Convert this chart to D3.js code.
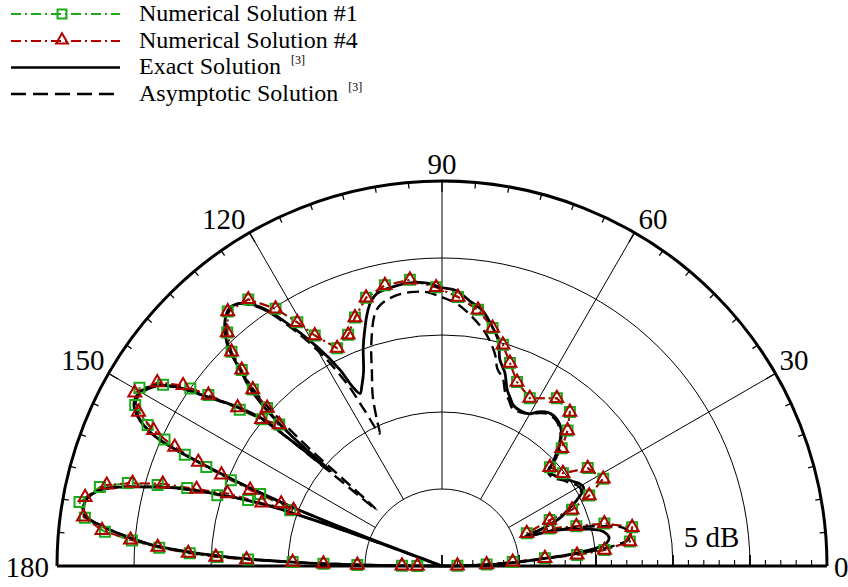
<!DOCTYPE html>
<html>
<head>
<meta charset="utf-8">
<script src="https://cdn.jsdelivr.net/npm/d3@7"></script>
<style>
body { margin: 0; background: #fff; }
</style>
</head>
<body>
<script>
// each point: [angle in degrees, level in dB above the centre]
var exactSolution = [
    [0,0],[1,1.9],[2,3.6],[3,4.9],[4,6.2],[5,8.1],[6,9.4],[7,10.4],[8,10.8],[9.5,11.0],
    [11,10.9],[12.8,10.5],[14.5,9.6],[16.5,8.4],[18,7.3],[19.3,5.7],[20.5,7.0],[22,8.2],
    [24.7,9.2],[26.5,9.9],[28.8,10.5],[31,10.4],[33,10.1],[35.5,9.8],[38.5,9.4],[41.6,9.3],
    [43.5,10.2],[46,11.0],[48,11.6],[51.8,12.1],[55.5,12.1],[58,11.8],[60.1,11.4],[63,11.3],
    [65.9,11.4],[68,11.8],[69.7,12.2],[72,13.2],[74.3,13.9],[76,15.1],[78.8,16.1],[81,16.8],
    [84,17.3],[87,17.9],[90.4,18.1],[93,18.4],[96.5,18.5],[100,18.4],[103.4,18.2],[105,17.8],
    [106.5,17.1],[108,16.2],[109.8,15.1],[112,13.6],[114,12.8],[115.4,12.4],[116.5,13.0],
    [117.5,14.4],[119.7,16.4],[122.9,19.0],[125,20.5],[126.5,21.2],[128,21.6],[129.5,21.7],
    [131.4,21.3],[134,20.1],[135.9,18.2],[137.2,17.0],[138.3,15.3],[139.1,13.0],[139.6,9.5],
    [140.2,12.7],[140.8,15.3],[142.5,17.2],[144,18.6],[146,20.8],[147.4,21.8],[149,22.4],
    [151.3,22.7],[153,22.4],[155.4,20.8],[157.3,15.6],[158.5,10.7],[159.2,5.2],[159.5,0],
    [159.9,5.2],[160.4,9.7],[161,12.5],[162.5,15.8],[164,18.5],[165.2,20.1],[166.2,21.5],
    [167.4,22.7],[169,23.4],[170.5,23.6],[172,23.4],[173.4,22.1],[175,20.1],[176.1,18.4],
    [177.6,14.0],[178.5,9.7],[179.3,4.5],[180,0]
];

var asymptoticSolution = [
    [0,0],[1,1.9],[2,3.6],[3,5.1],[4,6.5],[5,8.4],[6,10.3],[7,11.5],[8,12.2],[10,12.4],
    [12,12.0],[14,10.7],[16,9.1],[18,7.3],[19.3,5.7],[20.5,7.0],[22,8.2],[24.7,9.2],
    [26.5,9.9],[28.8,10.3],[31,10.2],[33,9.9],[35.5,9.6],[38.5,9.2],[41.6,9.2],[43.5,10.0],
    [46,10.9],[48,11.5],[51.8,12.0],[55.5,12.0],[58,11.7],[60.1,11.4],[63,11.2],[65.9,11.2],
    [68,11.6],[70,12.0],[72,12.8],[74.3,13.3],[76,14.2],[78.8,15.2],[81,15.8],[84,16.5],
    [87,17.1],[90.4,17.5],[93,17.8],[96.5,17.9],[100,17.8],[103.4,17.4],[105,16.9],
    [107.7,15.1],[110,13.3],[112.2,11.9],[114,10.4],[115.2,9.5],[116.5,11.4],[117.5,13.3],
    [119.7,15.9],[122.9,18.8],[125,20.4],[126.5,21.1],[128,21.6],[129.5,21.6],[131.4,21.2],
    [134,20.0],[135.9,18.2],[137.2,16.2],[138.3,12.5],[139.3,5.6],[140.1,10.7],[140.8,14.9],
    [142.5,17.1],[144,18.5],[146,20.7],[147.4,21.7],[149,22.3],[151.3,22.6],[153,22.3],
    [155.4,20.8],[157.3,15.6],[158.5,10.7],[159.2,5.2],[159.5,0],[159.9,5.2],[160.4,9.7],
    [161,12.5],[162.5,15.8],[164,18.5],[165.2,20.1],[166.2,21.5],[167.4,22.7],[169,23.4],
    [170.5,23.6],[172,23.4],[173.4,22.1],[175,20.1],[176.1,18.4],[177.6,14.0],[178.5,9.7],
    [179.3,4.5],[180,0]
];

var numericalSolution1 = [
    [1.0,1.0],[2.0,2.9],[3.2,4.6],[4.3,6.7],[4.7,8.8],[5.6,10.6],[7.4,12.3],[11.5,12.6],
    [14.7,10.9],[16.5,9.1],[19.2,7.4],[21.1,5.9],[23.1,7.6],[23.4,9.2],[25.6,10.6],[28.4,11.9],
    [33.9,11.4],[37.5,9.9],[42.5,9.5],[44.5,10.9],[47.2,12.0],[50.3,13.0],[55.6,13.2],
    [62.4,12.3],[67.8,12.9],[71.5,13.9],[74.6,14.9],[78.0,15.8],[82.0,16.8],[86.6,17.5],
    [91.2,18.1],[96.4,18.7],[101.5,18.6],[105.8,18.1],[109.3,17.1],[112.1,16.2],[115.7,15.7],
    [118.9,17.1],[120.7,18.4],[122.9,19.9],[126.0,21.4],[130.1,21.6],[132.6,20.6],[134.5,19.5],
    [135.6,18.2],[137.0,16.8],[137.9,15.3],[139.0,14.0],[140.9,15.1],[142.3,16.6],[143.8,18.8],
    [144.8,20.0],[147.0,21.6],[149.5,22.8],[152.3,22.5],[154.4,21.2],[155.5,19.8],[156.6,18.2],
    [157.2,16.6],[157.9,14.8],[158.4,12.7],[159.8,10.5],[161.2,13.3],[162.5,15.3],[163.0,17.3],
    [164.1,19.2],[165.2,21.1],[167.0,22.8],[170.0,23.9],[172.3,23.4],[174.2,22.0],[175.3,20.2],
    [176.3,18.4],[177.1,16.4],[177.7,14.6],[178.1,12.6],[178.5,9.7],[178.9,7.7],[179.3,5.5],
    [179.6,2.6],[179.8,1.6]
];

var numericalSolution4 = [
    [1.0,1.0],[2.0,2.9],[3.2,4.6],[4.3,6.7],[4.7,8.8],[5.6,10.6],[7.4,12.3],[11.5,12.6],
    [14.7,10.9],[16.5,9.1],[19.2,7.4],[21.1,5.9],[23.1,7.6],[23.4,9.2],[25.6,10.6],[28.4,11.9],
    [33.9,11.4],[37.5,9.9],[42.5,9.5],[44.5,10.9],[47.2,12.0],[50.3,13.0],[55.6,13.2],
    [62.4,12.3],[67.8,12.9],[71.5,13.9],[74.6,14.9],[78.0,15.8],[82.0,16.8],[86.6,17.5],
    [91.2,18.1],[96.4,18.7],[101.5,18.6],[105.8,18.1],[109.3,17.1],[112.1,16.2],[115.7,15.7],
    [118.9,17.1],[120.7,18.4],[122.9,19.9],[126.0,21.4],[130.1,21.6],[132.6,20.6],[134.5,19.5],
    [135.6,18.2],[137.0,16.8],[137.9,15.3],[139.0,14.0],[140.9,15.1],[142.2,16.8],[143.8,18.8],
    [145.1,20.5],[147.2,22.0],[150.6,22.9],[153.1,22.1],[154.8,20.7],[156.0,19.0],[156.9,17.2],
    [157.5,15.5],[158.4,13.4],[158.8,11.2],[159.4,10.3],[160.7,12.4],[161.3,14.7],[162.6,16.7],
    [163.6,18.9],[165.0,20.8],[166.4,22.4],[169.1,23.6],[172.2,23.5],[174.0,22.2],[175.2,20.3],
    [176.2,18.5],[177.1,16.5],[177.7,14.7],[178.1,12.7],[178.5,9.7],[178.9,7.7],[179.3,5.5],
    [179.6,2.6],[179.8,1.6]
];

var angleLabels = [0, 30, 60, 90, 120, 150, 180];
var ringLevels = [5, 10, 15, 20];
var legendLabels = ["Numerical Solution #1", "Numerical Solution #4", "Exact Solution", "Asymptotic Solution"];
var legendRefs = ["", "", "[3]", "[3]"];

window.onload = function(){
    var w = 848, h = 587;
    var cx = 442, cy = 566, R = 385;
    var green = "#1aab1a", red = "#b00000";
    var serif = "'Liberation Serif'";

    var svg = d3.select("body").append("svg")
        .attr("width", w)
        .attr("height", h);

    // radial scale (dB) and angular scale (deg -> d3 radial angle)
    var r = d3.scaleLinear().domain([0, 25]).range([0, R]);
    var a = d3.scaleLinear().domain([0, 180]).range([Math.PI / 2, -Math.PI / 2]);

    function px(deg, lev){ return r(lev) * Math.sin(a(deg)); }
    function py(deg, lev){ return -r(lev) * Math.cos(a(deg)); }

    var plot = svg.append("g")
        .attr("transform", "translate(" + cx + "," + cy + ")");

    // rings
    ringLevels.forEach(function(lev){
        var p = d3.path();
        p.arc(0, 0, r(lev), Math.PI, 2 * Math.PI);
        plot.append("path").attr("d", p.toString())
            .attr("fill", "none").attr("stroke", "#000").attr("stroke-width", 1);
    });

    // spokes
    [30, 60, 90, 120, 150].forEach(function(deg){
        plot.append("line")
            .attr("x1", px(deg, 5)).attr("y1", py(deg, 5))
            .attr("x2", px(deg, 25)).attr("y2", py(deg, 25))
            .attr("stroke", "#000").attr("stroke-width", 1);
    });

    // angle ticks on the outer arc, every 5 deg
    d3.range(5, 180, 5).forEach(function(deg){
        var len = deg % 30 === 0 ? 11 : 6;
        var lIn = r.invert(R - len);
        plot.append("line")
            .attr("x1", px(deg, lIn)).attr("y1", py(deg, lIn))
            .attr("x2", px(deg, 25)).attr("y2", py(deg, 25))
            .attr("stroke", "#000").attr("stroke-width", 1.3);
    });

    // level ticks on the baseline, every 1 dB
    d3.range(0, 25, 1).forEach(function(lev){
        var len = lev % 5 === 0 ? 11 : 6;
        plot.append("line")
            .attr("x1", r(lev)).attr("y1", 0)
            .attr("x2", r(lev)).attr("y2", -len)
            .attr("stroke", "#000").attr("stroke-width", lev % 5 === 0 ? 1.8 : 1.1);
    });

    // outer arc and baseline
    var outer = d3.path();
    outer.arc(0, 0, R, Math.PI, 2 * Math.PI);
    plot.append("path").attr("d", outer.toString())
        .attr("fill", "none").attr("stroke", "#000").attr("stroke-width", 3);
    plot.append("line")
        .attr("x1", -R).attr("y1", 0).attr("x2", R).attr("y2", 0)
        .attr("stroke", "#000").attr("stroke-width", 3);

    // angle labels
    angleLabels.forEach(function(deg){
        var x = cx + px(deg, 25), y = cy + py(deg, 25), anchor;
        if (deg === 0) { x += 7; y += 11; anchor = "start"; }
        else if (deg === 180) { x -= 8; y += 11; anchor = "end"; }
        else if (deg === 90) { y -= 7; anchor = "middle"; }
        else if (deg < 90) { x += 4; y -= 4; anchor = "start"; }
        else { x -= 4; y -= 4; anchor = "end"; }
        svg.append("text")
            .attr("x", x).attr("y", y)
            .attr("text-anchor", anchor)
            .style("font-family", serif)
            .style("font-size", "29px")
            .text(deg);
    });

    svg.append("text")
        .attr("x", cx + r(15.7)).attr("y", cy - 19)
        .style("font-family", serif)
        .style("font-size", "29px")
        .text("5 dB");

    // line generators
    var smooth = d3.lineRadial()
        .angle(function(d){ return a(d[0]); })
        .radius(function(d){ return r(d[1]); })
        .curve(d3.curveCatmullRom.alpha(0.5));
    var straight = d3.lineRadial()
        .angle(function(d){ return a(d[0]); })
        .radius(function(d){ return r(d[1]); });

    var dashDot = "10,4,2,4";

    plot.append("path").datum(numericalSolution1)
        .attr("d", straight).attr("fill", "none")
        .attr("stroke", green).attr("stroke-width", 2)
        .attr("stroke-dasharray", dashDot);
    plot.append("path").datum(numericalSolution4)
        .attr("d", straight).attr("fill", "none")
        .attr("stroke", red).attr("stroke-width", 2)
        .attr("stroke-dasharray", dashDot);

    plot.append("path").datum(exactSolution)
        .attr("d", smooth).attr("fill", "none")
        .attr("stroke", "#000").attr("stroke-width", 2.8)
        .attr("stroke-linejoin", "round");
    plot.append("path").datum(asymptoticSolution)
        .attr("d", smooth).attr("fill", "none")
        .attr("stroke", "#000").attr("stroke-width", 2.4)
        .attr("stroke-dasharray", "12,6");

    // markers
    var square = d3.symbol().type(d3.symbolSquare).size(100);
    var triangle = d3.symbol().type(d3.symbolTriangle).size(72);

    plot.selectAll(".sq")
        .data(numericalSolution1)
        .enter()
        .append("path")
        .attr("class", "sq")
        .attr("d", square)
        .attr("transform", function(d){ return "translate(" + px(d[0], d[1]) + "," + py(d[0], d[1]) + ")"; })
        .attr("fill", "none").attr("stroke", green).attr("stroke-width", 2);

    plot.selectAll(".tri")
        .data(numericalSolution4)
        .enter()
        .append("path")
        .attr("class", "tri")
        .attr("d", triangle)
        .attr("transform", function(d){ return "translate(" + px(d[0], d[1]) + "," + py(d[0], d[1]) + ")"; })
        .attr("fill", "none").attr("stroke", red).attr("stroke-width", 2);

    // legend
    var rowY = [14, 41, 67.5, 94];
    var legend = svg.append("g").attr("class", "legend");
    legendLabels.forEach(function(label, i){
        var y = rowY[i];
        var line = legend.append("line")
            .attr("x1", 11).attr("x2", 120).attr("y1", y).attr("y2", y)
            .attr("stroke-width", i < 2 ? 2 : 2.4);
        if (i === 0) line.attr("stroke", green).attr("stroke-dasharray", dashDot);
        if (i === 1) line.attr("stroke", red).attr("stroke-dasharray", dashDot);
        if (i === 2) line.attr("stroke", "#000");
        if (i === 3) line.attr("stroke", "#000").attr("stroke-dasharray", "15,7");

        if (i === 0) {
            legend.append("path").attr("d", d3.symbol().type(d3.symbolSquare).size(80))
                .attr("transform", "translate(62," + y + ")")
                .attr("fill", "none").attr("stroke", green).attr("stroke-width", 2);
        }
        if (i === 1) {
            legend.append("path").attr("d", d3.symbol().type(d3.symbolTriangle).size(60))
                .attr("transform", "translate(62," + (y - 1) + ")")
                .attr("fill", "none").attr("stroke", red).attr("stroke-width", 2);
        }

        var t = legend.append("text")
            .attr("x", 139).attr("y", y + 6.5)
            .style("font-family", serif)
            .style("font-size", "24px")
            .text(label);
        if (legendRefs[i]) {
            t.append("tspan")
                .attr("dx", 10).attr("dy", -10)
                .style("font-size", "12px")
                .text(legendRefs[i]);
        }
    });
};
</script>
</body>
</html>
